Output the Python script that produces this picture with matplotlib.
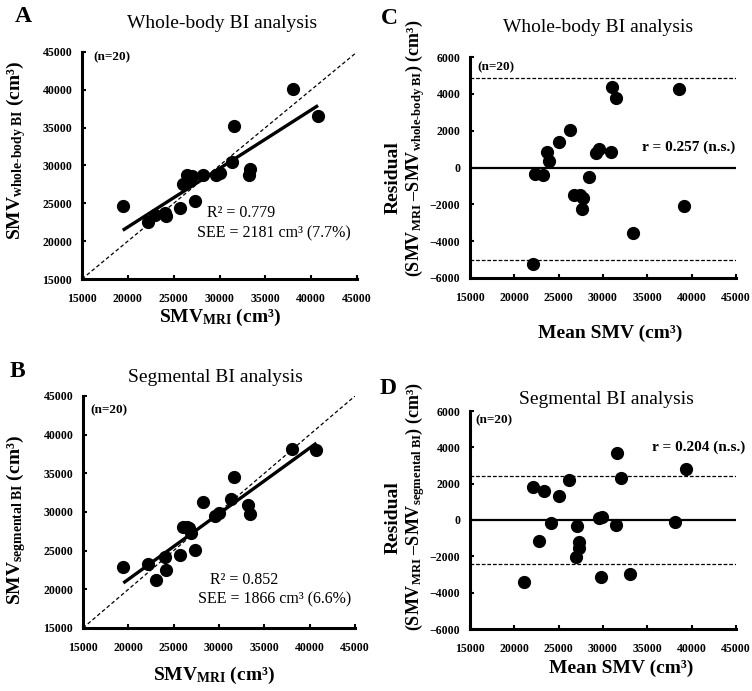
import numpy as np
import matplotlib
matplotlib.use("Agg")
import matplotlib.pyplot as plt

plt.rcParams['font.family'] = ['Liberation Serif', 'DejaVu Serif']
plt.rcParams['mathtext.fontset'] = 'custom'
plt.rcParams['mathtext.rm'] = 'Liberation Serif'
plt.rcParams['mathtext.bf'] = 'Liberation Serif:bold'
plt.rcParams['mathtext.it'] = 'Liberation Serif:italic'
plt.rcParams['mathtext.default'] = 'bf'

# skeletal muscle volume (cm3), one entry per subject
smv_mri = [19450, 22180, 23000, 24050, 24150, 25700, 25980, 26500, 26680, 26950,
           27300, 28200, 29600, 30000, 31350, 31600, 33180, 33380, 38040, 40750]
smv_whole = [24700, 22520, 23400, 23670, 23290, 24320, 27490, 28770, 28180, 28590,
             25250, 28700, 28800, 29000, 30500, 35170, 28810, 29600, 40150, 36500]
smv_seg = [22840, 23330, 21200, 24190, 22550, 24380, 28040, 28060, 27900, 27270,
           25110, 31320, 29500, 29850, 31650, 34590, 30890, 29710, 38160, 37970]

loa_whole = [-5000, 4850]
loa_seg = [-2400, 2400]
stats_whole = ["R\u00b2 = 0.779", "SEE = 2181 cm\u00b3 (7.7%)"]
stats_seg = ["R\u00b2 = 0.852", "SEE = 1866 cm\u00b3 (6.6%)"]
r_whole = "r = 0.257 (n.s.)"
r_seg = "r = 0.204 (n.s.)"

smv_ticks = [15000, 20000, 25000, 30000, 35000, 40000, 45000]
res_ticks = [-6000, -4000, -2000, 0, 2000, 4000, 6000]

W, H = 752, 691
fig = plt.figure(figsize=(W / 100, H / 100), dpi=100)


def px_axes(l, t, r, b):
    return fig.add_axes([l / W, 1 - b / H, (r - l) / W, (b - t) / H])


def ptxt(x, y, s, **kw):
    fig.text(x / W, 1 - y / H, s, **kw)


def style(ax, yticks, ylim):
    ax.set_xlim(15000, 45000)
    ax.set_ylim(*ylim)
    ax.set_xticks(smv_ticks)
    ax.set_yticks(yticks)
    for side in ['top', 'right']:
        ax.spines[side].set_visible(False)
    for side in ['left', 'bottom']:
        ax.spines[side].set_linewidth(2.2)
    ax.tick_params(direction='in', length=3, width=1.5, labelsize=8.5)
    ax.tick_params(axis='x', pad=10)
    ax.tick_params(axis='y', pad=7)
    for lab in ax.get_xticklabels() + ax.get_yticklabels():
        lab.set_fontweight('bold')
    ax.patch.set_alpha(0)


def regression_panel(ax, x, y):
    x = np.array(x, float)
    y = np.array(y, float)
    ax.plot([15000, 45000], [15000, 45000], color='black', lw=0.9, ls=(0, (3, 2)))
    slope, icpt = np.polyfit(x, y, 1)
    xs = np.array([x.min(), x.max()])
    ax.plot(xs, slope * xs + icpt, color='black', lw=2.4, solid_capstyle='butt')
    ax.plot(x, y, 'o', color='black', ms=8.5, mec='black')
    style(ax, smv_ticks, (15000, 45000))


def residual_panel(ax, x, y, loa):
    x = np.array(x, float)
    y = np.array(y, float)
    mean = (x + y) / 2
    diff = x - y
    ax.axhline(0, xmin=0, xmax=1, color='black', lw=1.6)
    for v in loa:
        ax.axhline(v, color='black', lw=0.9, ls=(0, (3, 1.5)))
    ax.plot(mean, diff, 'o', color='black', ms=8.5, mec='black')
    style(ax, res_ticks, (-6000, 6000))


ax_a = px_axes(82, 52, 357, 279)
regression_panel(ax_a, smv_mri, smv_whole)
ax_b = px_axes(83, 396, 355, 628)
regression_panel(ax_b, smv_mri, smv_seg)
ax_c = px_axes(470, 57, 736, 278)
residual_panel(ax_c, smv_mri, smv_whole, loa_whole)
ax_d = px_axes(470, 411, 736, 629)
residual_panel(ax_d, smv_mri, smv_seg, loa_seg)

# panel letters and titles
for x, y, s in [(23, 17, 'A'), (17, 372, 'B'), (389, 18, 'C'), (388, 388, 'D')]:
    ptxt(x, y, s, fontsize=17, fontweight='bold', ha='center', va='center')
for x, y, s in [(222, 23, 'Whole-body BI analysis'), (215, 378, 'Segmental BI analysis'),
                (598, 27, 'Whole-body BI analysis'), (606, 400, 'Segmental BI analysis')]:
    ptxt(x, y, s, fontsize=14, ha='center', va='center')

# axis labels
xlab_smv = 'SMV$_{MRI}$ (cm\u00b3)'
ptxt(220, 322, xlab_smv, fontsize=14, fontweight='bold', ha='center', va='baseline')
ptxt(214, 680, xlab_smv, fontsize=14, fontweight='bold', ha='center', va='baseline')
ptxt(610, 333, 'Mean SMV (cm\u00b3)', fontsize=14, fontweight='bold', ha='center', va='center')
ptxt(621, 668, 'Mean SMV (cm\u00b3)', fontsize=14, fontweight='bold', ha='center', va='center')

ptxt(16, 150, 'SMV$_{whole\u2010body\\ BI}$ (cm\u00b3)', fontsize=14, fontweight='bold',
     rotation=90, ha='center', va='center')
ptxt(16, 520, 'SMV$_{segmental\\ BI}$ (cm\u00b3)', fontsize=14, fontweight='bold',
     rotation=90, ha='center', va='center')

for yc, yr, sub in [(178, 148, 'whole\u2010body\\ BI'), (518, 507, 'segmental\\ BI')]:
    ptxt(393, yc, 'Residual', fontsize=14, fontweight='bold', rotation=90,
         ha='center', va='center')
    ptxt(415, yr, '(SMV$_{MRI}$ \u2013SMV$_{' + sub + '}$) (cm\u00b3)', fontsize=13,
         fontweight='bold', rotation=90, ha='center', va='center')

# annotations
for x, y in [(93, 57), (90, 410), (477, 67), (475, 420)]:
    ptxt(x, y, '(n=20)', fontsize=9.5, fontweight='bold', ha='left', va='center')

ptxt(207, 213, stats_whole[0], fontsize=11.5, ha='left', va='center')
ptxt(197, 233, stats_whole[1], fontsize=11.5, ha='left', va='center')
ptxt(210, 580, stats_seg[0], fontsize=11.5, ha='left', va='center')
ptxt(198, 599, stats_seg[1], fontsize=11.5, ha='left', va='center')
ptxt(642, 147, r_whole, fontsize=11, fontweight='bold', ha='left', va='center')
ptxt(652, 447, r_seg, fontsize=11, fontweight='bold', ha='left', va='center')

fig.savefig('out.png', dpi=100)
